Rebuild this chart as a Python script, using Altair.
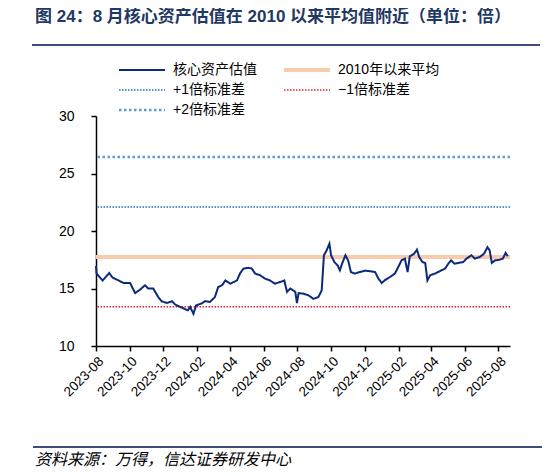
import pandas as pd
import altair as alt

# valuation series
dates = [
    "2023-08-01", "2023-08-02", "2023-08-13", "2023-08-25", "2023-08-31", "2023-09-11",
    "2023-09-20", "2023-10-02", "2023-10-11", "2023-10-20", "2023-10-29", "2023-11-04",
    "2023-11-13", "2023-11-22", "2023-11-28", "2023-12-08", "2023-12-17", "2023-12-23",
    "2024-01-01", "2024-01-10", "2024-01-15", "2024-01-19", "2024-01-25", "2024-01-30",
    "2024-02-09", "2024-02-15", "2024-02-24", "2024-03-04", "2024-03-10", "2024-03-17",
    "2024-03-23", "2024-04-01", "2024-04-13", "2024-04-19", "2024-04-25", "2024-05-04",
    "2024-05-10", "2024-05-16", "2024-05-25", "2024-06-03", "2024-06-12", "2024-06-21",
    "2024-07-01", "2024-07-08", "2024-07-13", "2024-07-19", "2024-07-28", "2024-07-31",
    "2024-08-03", "2024-08-12", "2024-08-21", "2024-08-30", "2024-09-08", "2024-09-14",
    "2024-09-18", "2024-09-23", "2024-09-28", "2024-10-01", "2024-10-07", "2024-10-13",
    "2024-10-17", "2024-10-21", "2024-10-27", "2024-11-01", "2024-11-06", "2024-11-13",
    "2024-11-22", "2024-12-02", "2024-12-11", "2024-12-20", "2024-12-26", "2025-01-01",
    "2025-01-08", "2025-01-16", "2025-01-25", "2025-01-31", "2025-02-06", "2025-02-12",
    "2025-02-17", "2025-02-21", "2025-03-01", "2025-03-06", "2025-03-10", "2025-03-16",
    "2025-03-21", "2025-03-25", "2025-03-30", "2025-04-08", "2025-04-17", "2025-04-26",
    "2025-05-02", "2025-05-07", "2025-05-13", "2025-05-20", "2025-05-29", "2025-06-04",
    "2025-06-13", "2025-06-19", "2025-06-28", "2025-07-06", "2025-07-12", "2025-07-16",
    "2025-07-20", "2025-07-26", "2025-08-03", "2025-08-09", "2025-08-14", "2025-08-18",
]
values = [
    16.96, 16.3, 15.7, 16.35, 15.95, 15.7,
    15.48, 15.48, 14.6, 14.9, 15.28, 15.0,
    15.0, 14.26, 13.89, 13.74, 13.89, 13.6,
    13.4, 13.2, 13.1, 13.4, 12.8, 13.54,
    13.7, 13.9, 13.83, 14.26, 15.13, 15.28,
    15.7, 15.42, 15.7, 16.35, 16.73, 16.8,
    16.73, 16.3, 16.15, 15.86, 15.7, 15.42,
    15.57, 15.7, 14.7, 15.0, 14.7, 13.74,
    14.6, 14.55, 14.4, 14.1, 14.26, 14.84,
    17.89, 18.32, 18.9, 17.89, 17.3, 17.0,
    16.58, 17.16, 17.89, 17.45, 16.43, 16.3,
    16.43, 16.55, 16.5, 16.43, 15.86, 15.48,
    15.77, 16.0, 16.3, 16.87, 17.45, 17.6,
    16.43, 17.8, 18.03, 18.38, 17.74, 17.3,
    17.22, 15.7, 16.15, 16.3, 16.52, 16.73,
    17.16, 17.45, 17.16, 17.22, 17.3, 17.6,
    17.89, 17.6, 17.74, 18.03, 18.6, 18.32,
    17.22, 17.45, 17.5, 17.6, 18.1, 17.8,
]

series = ["核心资产估值", "2010年以来平均", "+1倍标准差", "−1倍标准差", "+2倍标准差"]
colors = ["#0B2A7C", "#F8CBAD", "#1A73C8", "#E0262B", "#5B9BD5"]
dashes = [[1, 0], [1, 0], [1.5, 1.5], [1.5, 1.5], [2.5, 2.5]]
widths = [2, 4, 1.5, 1.5, 2.5]

ref_names = ["2010年以来平均", "+1倍标准差", "−1倍标准差", "+2倍标准差"]
ref_values = [17.75, 22.09, 13.41, 26.43]

x_ticks = ["2023-08", "2023-10", "2023-12", "2024-02", "2024-04", "2024-06", "2024-08",
           "2024-10", "2024-12", "2025-02", "2025-04", "2025-06", "2025-08"]
y_ticks = [10, 15, 20, 25, 30]

title_text = "图 24：8 月核心资产估值在 2010 以来平均值附近（单位：倍）"
source_text = "资料来源：万得，信达证券研发中心"

FONT = "Liberation Sans, Noto Sans CJK SC"

line_df = pd.DataFrame({"date": pd.to_datetime(dates), "value": values, "series": series[0]})
ref_df = pd.DataFrame({"series": ref_names, "value": ref_values})

tick_dt = [alt.DateTime(year=int(t[:4]), month=int(t[5:]), date=1) for t in x_ticks]

legend = alt.Legend(
    orient="none", legendX=21, legendY=-54, direction="horizontal", columns=2,
    columnPadding=25, rowPadding=4, clipHeight=16, symbolType="stroke", symbolSize=2116,
    labelFont=FONT, labelFontSize=14, labelColor="black", labelOffset=6, title=None,
)
color = alt.Color("series:N", scale=alt.Scale(domain=series, range=colors), legend=legend)
dash = alt.StrokeDash("series:N", scale=alt.Scale(domain=series, range=dashes), legend=legend)
width = alt.StrokeWidth("series:N", scale=alt.Scale(type="ordinal", domain=series, range=widths),
                        legend=legend)

x_enc = alt.X("date:T", title=None,
              scale=alt.Scale(domain=[alt.DateTime(year=2023, month=8, date=1),
                                      alt.DateTime(year=2025, month=8, date=22)], nice=False),
              axis=alt.Axis(values=tick_dt, format="%Y-%m", labelAngle=315, tickSize=5,
                            labelPadding=3, labelOverlap=False, labelFontSize=13.5))
y_enc = alt.Y("value:Q", title=None, scale=alt.Scale(domain=[10, 30], nice=False),
              axis=alt.Axis(values=y_ticks, tickSize=5, labelPadding=17))

rules = alt.Chart(ref_df).mark_rule().encode(y=y_enc, color=color, strokeDash=dash, strokeWidth=width)
line = alt.Chart(line_df).mark_line().encode(x=x_enc, y=y_enc, color=color, strokeDash=dash,
                                             strokeWidth=width)

title = alt.Chart(pd.DataFrame({"t": [title_text]})).mark_text(
    align="left", baseline="middle", font=FONT, fontSize=17, fontWeight="bold", color="#1F3864"
).encode(text="t:N", x=alt.value(-61), y=alt.value(-99))
top_rule = alt.Chart(pd.DataFrame({"t": [0]})).mark_rule(color="#3C4E7E", strokeWidth=2).encode(
    x=alt.value(-64), x2=alt.value(444), y=alt.value(-71))
bottom_rule = alt.Chart(pd.DataFrame({"t": [0]})).mark_rule(color="#3C4E7E", strokeWidth=2).encode(
    x=alt.value(-63), x2=alt.value(446), y=alt.value(331))
source = alt.Chart(pd.DataFrame({"t": [source_text]})).mark_text(
    align="left", baseline="middle", font=FONT, fontSize=16, fontStyle="italic", color="black"
).encode(text="t:N", x=alt.value(-61), y=alt.value(344))

chart = alt.layer(rules, line, title, top_rule, bottom_rule, source).properties(
    width=414, height=230,
    padding={"left": 88, "top": 108, "right": 32, "bottom": 122},
    autosize=alt.AutoSizeParams(type="none"),
).configure_axis(
    domainColor="black", domainWidth=1.5, tickColor="black", tickWidth=1.5, grid=False,
    labelFont=FONT, labelFontSize=14, labelColor="black",
).configure_view(stroke=None)

chart.save("out.html", embed_options={"renderer": "svg", "actions": False})
